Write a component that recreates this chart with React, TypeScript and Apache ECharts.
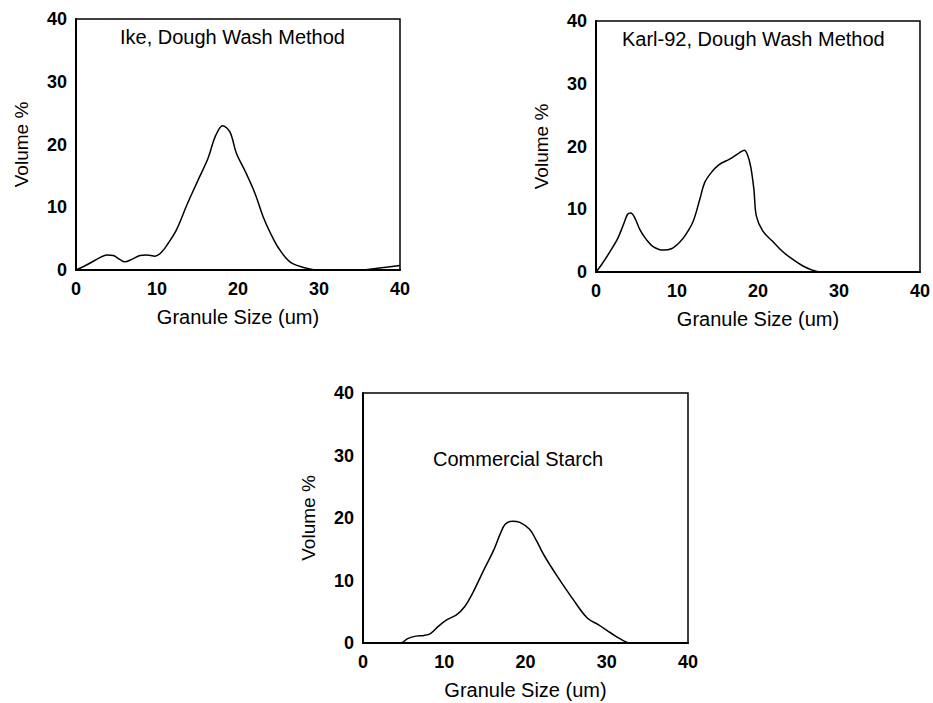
import React, { useEffect, useRef } from "react";
import * as echarts from "echarts";

// Panel 1: Ike, Dough Wash Method
const ikeX = [0, 1.3, 3.0, 3.8, 4.6, 5.4, 6.0, 6.9, 7.9, 8.7, 9.75, 10.6, 11.4, 12.4, 13.7, 15.1, 16.3, 17.2, 18.1, 19.0, 19.8, 20.9, 22.1, 23.1, 24.0, 25.0, 26.4, 28.1, 29.7, 35.0, 37.5, 40];
const ikeY = [0, 0.8, 2.0, 2.4, 2.3, 1.7, 1.3, 1.7, 2.3, 2.4, 2.2, 2.9, 4.3, 6.4, 10.4, 14.4, 17.8, 21.3, 23.0, 22.0, 18.6, 15.7, 12.2, 8.5, 5.9, 3.5, 1.3, 0.4, 0, 0, 0.3, 0.7];

// Panel 2: Karl-92, Dough Wash Method
const karlX = [0, 0.7, 1.9, 2.7, 3.4, 3.9, 4.3, 4.8, 5.4, 6.2, 7.0, 8.3, 9.3, 10.3, 11.1, 12.0, 12.8, 13.4, 14.2, 15.2, 16.5, 17.7, 18.3, 18.7, 19.1, 19.5, 19.8, 20.6, 21.8, 23.0, 24.3, 25.5, 26.7, 27.7, 40];
const karlY = [0, 1.2, 3.6, 5.4, 7.6, 9.2, 9.4, 8.6, 6.8, 5.2, 4.1, 3.5, 3.7, 4.7, 6.0, 8.1, 11.5, 14.2, 15.8, 17.1, 18.0, 19.0, 19.4, 18.7, 16.8, 13.1, 8.9, 6.5, 4.9, 3.3, 2.0, 1.0, 0.3, 0, 0];

// Panel 3: Commercial Starch
const comX = [0, 4.6, 5.5, 6.5, 7.5, 8.3, 9.3, 10.3, 11.5, 12.5, 13.5, 14.8, 16.1, 16.9, 17.5, 18.4, 19.3, 20.5, 21.3, 22.3, 23.9, 25.9, 27.6, 29.0, 30.5, 31.6, 32.9, 40];
const comY = [0, 0, 0.7, 1.1, 1.2, 1.5, 2.7, 3.7, 4.5, 5.8, 8.0, 11.5, 14.9, 17.5, 19.0, 19.5, 19.3, 18.2, 16.5, 14.0, 10.7, 6.9, 4.0, 2.9, 1.6, 0.7, 0, 0];

const titles = ["Ike, Dough Wash Method", "Karl-92, Dough Wash Method", "Commercial Starch"];
const xName = "Granule Size (um)";
const yName = "Volume %";
const axisMin = 0;
const axisMax = 40;
const axisStep = 10;

const FONT = "'Liberation Sans', Arial, Helvetica, sans-serif";

const zip = (xs: number[], ys: number[]) => xs.map((x, i) => [x, ys[i]]);

export default function App() {
  const ref = useRef<HTMLDivElement>(null);
  useEffect(() => {
    if (!ref.current) return;
    const chart = echarts.init(ref.current, undefined, { renderer: "svg" });
    const grids = [
      { left: 76, top: 19, width: 324, height: 251 },
      { left: 596, top: 21, width: 325, height: 251 },
      { left: 363, top: 393, width: 325, height: 250 },
    ];
    const titlePos = [
      { x: 120, y: 37 },
      { x: 622, y: 39 },
      { x: 433, y: 459 },
    ];
    const datasets = [zip(ikeX, ikeY), zip(karlX, karlY), zip(comX, comY)];
    const axisCommon = {
      type: "value" as const,
      min: axisMin,
      max: axisMax,
      interval: axisStep,
      axisTick: { show: false },
      splitLine: { show: false },
      axisLine: { show: true, lineStyle: { color: "#000", width: 2 } },
      nameLocation: "middle" as const,
      axisLabel: { color: "#000", fontSize: 18, fontWeight: "bold" as const, fontFamily: FONT },
    };
    chart.setOption({
      animation: false,
      backgroundColor: "#fff",
      grid: grids.map((g) => ({
        ...g,
        show: true,
        borderColor: "#000",
        borderWidth: 1.5,
        backgroundColor: "transparent",
      })),
      xAxis: grids.map((_, i) => ({
        ...axisCommon,
        gridIndex: i,
        name: xName,
        nameGap: 37,
        nameTextStyle: { color: "#000", fontSize: 20, fontFamily: FONT },
        axisLabel: { ...axisCommon.axisLabel, margin: 10 },
      })),
      yAxis: grids.map((_, i) => ({
        ...axisCommon,
        gridIndex: i,
        name: yName,
        nameGap: 45,
        nameTextStyle: { color: "#000", fontSize: 19, fontFamily: FONT },
        axisLabel: { ...axisCommon.axisLabel, margin: 9 },
      })),
      series: datasets.map((d, i) => ({
        type: "line",
        xAxisIndex: i,
        yAxisIndex: i,
        data: d,
        smooth: 0.35,
        showSymbol: false,
        lineStyle: { color: "#000", width: 1.5 },
      })),
      graphic: titles.map((t, i) => ({
        type: "text",
        x: titlePos[i].x,
        y: titlePos[i].y,
        style: {
          text: t,
          fill: "#000",
          fontSize: 20,
          fontFamily: FONT,
          textVerticalAlign: "middle",
          verticalAlign: "middle",
        },
      })),
    });
    return () => chart.dispose();
  }, []);
  return <div ref={ref} style={{ position: "fixed", left: 0, top: 0, width: 933, height: 703 }} />;
}
